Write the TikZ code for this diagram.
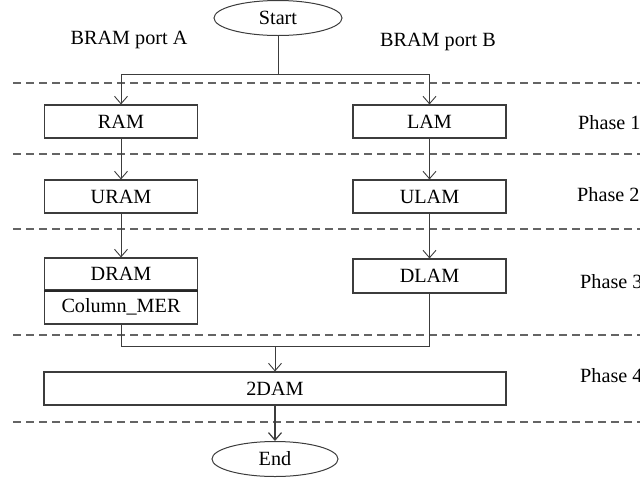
\documentclass[tikz,border=0pt]{standalone}
\usepackage{fontspec}
\setmainfont{Liberation Serif}
\usetikzlibrary{arrows.meta,shapes.geometric}
\definecolor{boxline}{RGB}{60,60,60}
\definecolor{dashgray}{RGB}{100,100,100}
\begin{document}
\begin{tikzpicture}[x=1pt,y=-1pt,
  font=\fontsize{20.2}{24}\selectfont,
  blk/.style={draw=boxline,line width=1.1pt,rectangle,minimum width=153pt,minimum height=33pt,inner sep=0pt},
  term/.style={draw=boxline,line width=1pt,ellipse,inner sep=0pt},
  conn/.style={draw=boxline,line width=0.9pt},
  arr/.style={conn,-{Straight Barb[length=7.5pt,width=13pt,line width=0.9pt]}},
  phaseline/.style={draw=dashgray,line width=1.1pt,dash pattern=on 8pt off 5pt},
  lbl/.style={inner sep=0pt}]
\useasboundingbox (0,0) rectangle (640,477);
\clip (0,0) rectangle (640,477);
% dashed phase separators
\foreach \yy in {83,154,229,335,422}
  \draw[phaseline] (13,\yy) -- (645,\yy);
% terminals
\node[term,minimum width=128pt,minimum height=35pt] (start) at (278,18) {Start};
\node[term,minimum width=126pt,minimum height=35pt] (end) at (275,459) {End};
% labels
\node[lbl] (pa) at (129,40) {BRAM port A};
\node[lbl] (pb) at (438,42) {BRAM port B};
\node[lbl,anchor=west] (ph1) at (578,123) {Phase 1};
\node[lbl,anchor=west] (ph2) at (577,195) {Phase 2};
\node[lbl,anchor=west] (ph3) at (580,282) {Phase 3};
\node[lbl,anchor=west] (ph4) at (580,376) {Phase 4};
% blocks
\node[blk] (ram) at (121,121.5) {RAM};
\node[blk] (uram) at (121,196.5) {URAM};
\node[blk,minimum height=32pt] (dram) at (121,274) {DRAM};
\node[blk,minimum height=34pt] (colmer) at (121,307) {Column\_MER};
\draw[draw=black!85,line width=2pt] (dram.south west) -- (dram.south east);
\node[blk] (lam) at (429.5,121.5) {LAM};
\node[blk] (ulam) at (429.5,196.5) {ULAM};
\node[blk,minimum height=34pt] (dlam) at (429.5,276) {DLAM};
\node[blk,minimum width=462pt] (dam) at (275,388.5) {2DAM};
% connectors
\coordinate (sA) at (121,74);
\coordinate (sB) at (429.5,74);
\coordinate (jA) at (121,346);
\coordinate (jB) at (429.5,346);
\coordinate (jM) at (275,346);
\draw[conn] (start.south) -- (start.south |- sA);
\draw[conn] (sA) -- (sB);
\draw[arr] (sA) -- (ram.north);
\draw[arr] (sB) -- (lam.north);
\draw[arr] (ram) -- (uram);
\draw[arr] (uram) -- (dram);
\draw[arr] (lam) -- (ulam);
\draw[arr] (ulam) -- (dlam);
\draw[conn] (colmer.south) -- (jA) -- (jB) -- (dlam.south);
\draw[arr] (jM) -- (dam.north);
\draw[conn,line width=1.6pt,-{Straight Barb[length=7.5pt,width=13pt,line width=1.2pt]}] (dam) -- (end);
\end{tikzpicture}
\end{document}
